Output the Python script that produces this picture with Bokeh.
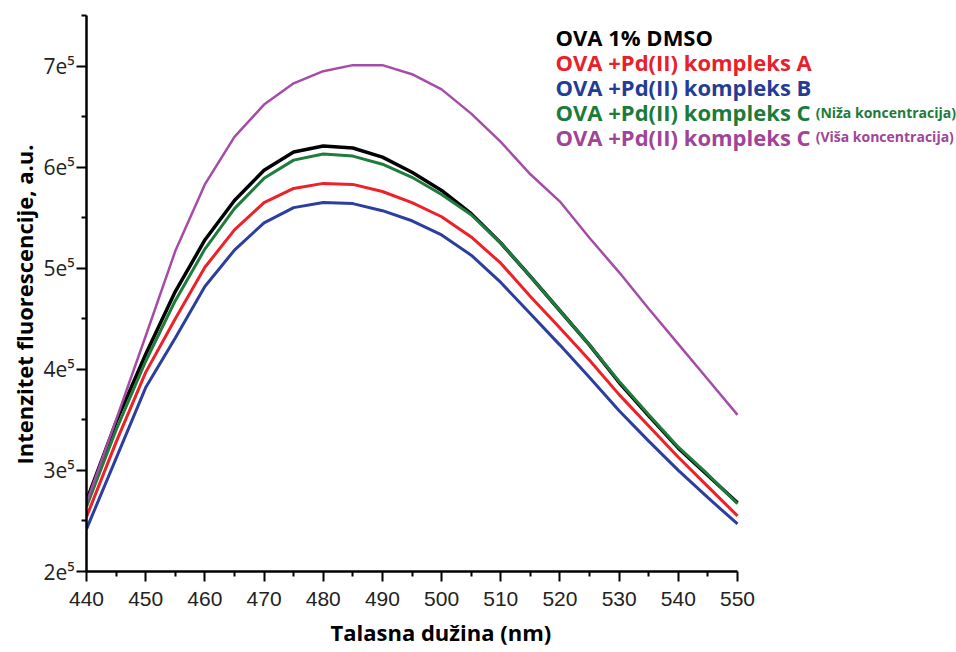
from bokeh.plotting import figure
from bokeh.models import Range1d, Label, FixedTicker, Title
from bokeh.embed import file_html
from bokeh.resources import INLINE

# ---- data ----
wavelength = [440, 445, 450, 455, 460, 465, 470, 475, 480, 485, 490, 495,
              500, 505, 510, 515, 520, 525, 530, 535, 540, 545, 550]

ova_dmso = [2.70, 3.48, 4.15, 4.77, 5.28, 5.67, 5.97, 6.15, 6.21, 6.19, 6.10, 5.95,
            5.77, 5.54, 5.25, 4.92, 4.58, 4.24, 3.87, 3.54, 3.22, 2.95, 2.68]
kompleks_a = [2.54, 3.28, 3.97, 4.50, 5.01, 5.38, 5.65, 5.79, 5.84, 5.83, 5.76, 5.65,
              5.51, 5.31, 5.05, 4.72, 4.41, 4.09, 3.75, 3.44, 3.13, 2.84, 2.55]
kompleks_b = [2.42, 3.12, 3.82, 4.31, 4.82, 5.18, 5.45, 5.60, 5.65, 5.64, 5.57, 5.47,
              5.33, 5.13, 4.86, 4.55, 4.24, 3.92, 3.59, 3.29, 3.00, 2.73, 2.47]
kompleks_c_niza = [2.64, 3.40, 4.08, 4.68, 5.19, 5.59, 5.89, 6.07, 6.13, 6.11, 6.03, 5.90,
                   5.73, 5.53, 5.25, 4.92, 4.58, 4.24, 3.88, 3.55, 3.23, 2.96, 2.67]
kompleks_c_visa = [2.68, 3.50, 4.33, 5.17, 5.83, 6.30, 6.62, 6.83, 6.95, 7.01, 7.01, 6.92,
                   6.77, 6.53, 6.25, 5.93, 5.66, 5.30, 4.96, 4.60, 4.25, 3.90, 3.55]
scale = 1e5

x_ticks = [440, 450, 460, 470, 480, 490, 500, 510, 520, 530, 540, 550]
x_minor = [445, 455, 465, 475, 485, 495, 505, 515, 525, 535, 545]
y_ticks = [200000, 300000, 400000, 500000, 600000, 700000]
y_minor = [250000, 350000, 450000, 550000, 650000, 750000]
y_tick_labels = ["2e\u2075", "3e\u2075", "4e\u2075", "5e\u2075", "6e\u2075", "7e\u2075"]

legend_main = ["OVA 1% DMSO", "OVA +Pd(II) kompleks A", "OVA +Pd(II) kompleks B",
               "OVA +Pd(II) kompleks C", "OVA +Pd(II) kompleks C"]
legend_suffix = ["", "", "", "(Niža koncentracija)", "(Viša koncentracija)"]
legend_colors = ["#000000", "#e8202a", "#233d96", "#1c7b3a", "#a0449a"]

line_colors = {"dmso": "#000000", "a": "#ee2028", "b": "#2b3f9e",
               "cn": "#1e7d3c", "cv": "#a64ca8"}

# ---- figure ----
# the frame is wider/taller than the axes so the legend text fits inside it
p = figure(width=956, height=652, output_backend="svg", toolbar_location=None,
           x_range=Range1d(440, 587), y_range=Range1d(2e5, 7.6e5),
           min_border_left=86, min_border_right=0, min_border_top=5,
           min_border_bottom=80)
p.outline_line_color = None
p.xgrid.grid_line_color = None
p.ygrid.grid_line_color = None
p.background_fill_color = "white"
p.border_fill_color = "white"

def ys(vals):
    return [v * scale for v in vals]

p.line(wavelength, ys(ova_dmso), line_color=line_colors["dmso"], line_width=3.5)
p.line(wavelength, ys(kompleks_c_niza), line_color=line_colors["cn"], line_width=3)
p.line(wavelength, ys(kompleks_a), line_color=line_colors["a"], line_width=3)
p.line(wavelength, ys(kompleks_b), line_color=line_colors["b"], line_width=3)
p.line(wavelength, ys(kompleks_c_visa), line_color=line_colors["cv"], line_width=2.5)

# axes
for ax in (p.xaxis[0], p.yaxis[0]):
    ax.axis_line_color = "black"
    ax.axis_line_width = 2.5
    ax.major_tick_line_color = "black"
    ax.major_tick_line_width = 2
    ax.minor_tick_line_color = "black"
    ax.minor_tick_line_width = 2
    ax.major_tick_in = 0
    ax.major_tick_out = 10
    ax.minor_tick_in = 0
    ax.minor_tick_out = 5
    ax.major_label_text_color = "#222222"

p.xaxis.bounds = (440, 550)
p.yaxis.bounds = (200000, 750000)
p.xaxis.ticker = FixedTicker(ticks=x_ticks, minor_ticks=x_minor)
p.yaxis.ticker = FixedTicker(ticks=y_ticks, minor_ticks=y_minor)
p.yaxis.major_label_overrides = {t: l for t, l in zip(y_ticks, y_tick_labels)}
p.xaxis.major_label_text_font = "Liberation Sans"
p.xaxis.major_label_text_font_size = "21px"
p.yaxis.major_label_text_font = "Open Sans"
p.yaxis.major_label_text_font_size = "21px"
p.xaxis.major_label_standoff = 10
p.yaxis.major_label_standoff = 2

# axis titles (placed beside the axes, aligned with the reference)
p.add_layout(Title(text="Talasna dužina (nm)", align="left", offset=244,
                   text_font="Open Sans", text_font_style="bold",
                   text_font_size="22px", text_color="black", standoff=12), "below")
p.add_layout(Title(text="Intenzitet fluorescencije, a.u.", align="left", offset=107,
                   text_font="Open Sans", text_font_style="bold",
                   text_font_size="22px", text_color="black", standoff=4), "left")

# legend as coloured text
leg_x = 519.25
leg_y0 = 7.287e5
leg_dy = 0.247e5
suffix_x = 563.2
for i, (txt, suf, col) in enumerate(zip(legend_main, legend_suffix, legend_colors)):
    y = leg_y0 - i * leg_dy
    p.add_layout(Label(x=leg_x, y=y, text=txt, text_color=col,
                       text_font="Open Sans", text_font_style="bold",
                       text_font_size="22px", text_baseline="alphabetic"))
    if suf:
        p.add_layout(Label(x=suffix_x, y=y, text=suf, text_color=col,
                           text_font="Open Sans", text_font_style="bold",
                           text_font_size="14px", text_baseline="alphabetic"))

open("out.html", "w").write(file_html(p, INLINE))
